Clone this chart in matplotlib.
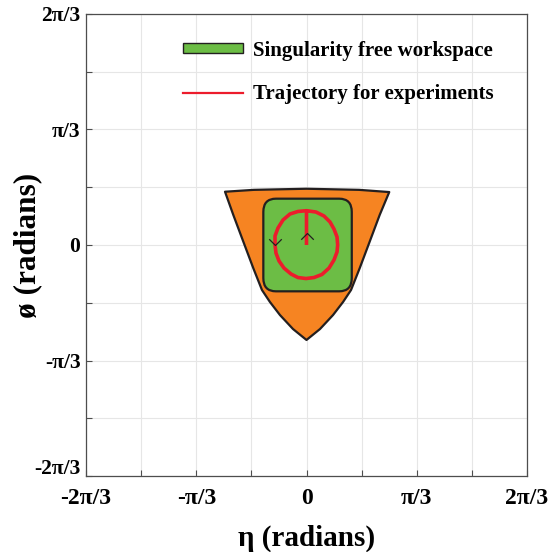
import numpy as np
import matplotlib.pyplot as plt
from matplotlib.patches import FancyBboxPatch, Patch
from matplotlib.lines import Line2D
from matplotlib.path import Path
from matplotlib.transforms import ScaledTranslation

# workspace boundary (eta, phi) in radians, traced left side -> bottom -> right side -> top arc
ws_eta = [-0.774, -0.695, -0.600, -0.505, -0.423, -0.347, -0.252, -0.128, 0.0,
          0.128, 0.252, 0.347, 0.423, 0.505, 0.600, 0.695, 0.786,
          0.5, 0.0, -0.5]
ws_phi = [0.483, 0.272, 0.030, -0.211, -0.408, -0.517, -0.635, -0.762, -0.861,
          -0.762, -0.635, -0.517, -0.408, -0.211, 0.030, 0.272, 0.480,
          0.500, 0.510, 0.500]

# singularity free square (eta range, phi range) and corner rounding
free_eta = [-0.41, 0.43]
free_phi = [-0.42, 0.42]
free_round = 0.12

# experiment trajectory: out from the origin, then once round counter-clockwise
traj_eta = [0.0, 0.0, -0.081, -0.157, -0.223, -0.271, -0.299, -0.299, -0.290,
            -0.261, -0.214, -0.147, -0.081, -0.005, 0.071, 0.147, 0.214,
            0.261, 0.290, 0.296, 0.290, 0.261, 0.223, 0.166, 0.090, 0.0]
traj_phi = [0.0, 0.311, 0.304, 0.281, 0.227, 0.154, 0.082, 0.0, -0.073,
            -0.145, -0.209, -0.263, -0.295, -0.304, -0.295, -0.267, -0.209,
            -0.136, -0.063, 0.0, 0.073, 0.145, 0.209, 0.263, 0.299, 0.311]

# direction markers on the trajectory
arrow_down = (-0.299, 0.0)
arrow_up = (0.0, 0.106)

tick_vals = np.arange(-4, 5) * np.pi / 6
tick_text = ['-2π/3', '', '-π/3', '', '0', '', 'π/3', '', '2π/3']

ORANGE = '#F68422'
GREEN = '#6CBD45'
RED = '#EC1C2C'
EDGE = '#231F20'

plt.rcParams['font.family'] = ['Liberation Serif', 'DejaVu Serif']
plt.rcParams['font.weight'] = 'bold'

fig = plt.figure(figsize=(5.5, 5.52), dpi=100)
ax = fig.add_axes([86 / 550, 76 / 552, 441 / 550, 462 / 552])

ax.fill(ws_eta, ws_phi, facecolor=ORANGE, edgecolor=EDGE, linewidth=1.6,
        joinstyle='round', zorder=2)

box = FancyBboxPatch((free_eta[0], free_phi[0]), free_eta[1] - free_eta[0],
                     free_phi[1] - free_phi[0],
                     boxstyle=f'round,pad=0,rounding_size={free_round}',
                     facecolor=GREEN, edgecolor=EDGE, linewidth=1.6, zorder=3)
ax.add_patch(box)

ax.plot(traj_eta, traj_phi, color=RED, linewidth=2.6, solid_joinstyle='round',
        solid_capstyle='butt', zorder=4)

down_mark = Path([(-1, 1), (0, 0), (1, 1)], [Path.MOVETO, Path.LINETO, Path.LINETO])
up_mark = Path([(-1, -1), (0, 0), (1, -1)], [Path.MOVETO, Path.LINETO, Path.LINETO])
ax.plot(*arrow_down, marker=down_mark, markersize=9, markerfacecolor='none',
        markeredgecolor=EDGE, markeredgewidth=0.9, zorder=5)
ax.plot(*arrow_up, marker=up_mark, markersize=9, markerfacecolor='none',
        markeredgecolor=EDGE, markeredgewidth=0.9, zorder=5)

lim = 2 * np.pi / 3
ax.set_xlim(-lim, lim)
ax.set_ylim(-lim, lim)
ax.set_xticks(tick_vals)
ax.set_xticklabels(tick_text)
ax.set_yticks(tick_vals)
ax.set_yticklabels(tick_text)
ax.tick_params(direction='in', length=4, width=0.8, color='#4D4D4D')
ax.tick_params(axis='x', pad=9, labelsize=17)
ax.tick_params(axis='y', pad=4, labelsize=15.5)
ax.grid(True, color='#E6E6E6', linewidth=0.8, zorder=0)
ax.set_axisbelow(True)
for s in ax.spines.values():
    s.set_color('#4D4D4D')
    s.set_linewidth(0.9)

# lowest phi label sits a little above the corner
low = ax.get_yticklabels()[0]
low.set_transform(low.get_transform() + ScaledTranslation(0, 0.09, fig.dpi_scale_trans))

ax.set_xlabel('η (radians)', fontsize=21, fontweight='bold')
ax.set_ylabel('ø (radians)', fontsize=22.5, fontweight='bold')
ax.xaxis.set_label_coords(0.5, -0.106)
ax.yaxis.set_label_coords(-0.100, 0.5)

handles = [Patch(facecolor=GREEN, edgecolor=EDGE, linewidth=1.0),
           Line2D([0], [0], color=RED, linewidth=1.6)]
labels = ['Singularity free workspace', 'Trajectory for experiments']
ax.legend(handles, labels, loc='upper left', bbox_to_anchor=(0.22, 0.942),
          frameon=False, fontsize=15, handlelength=2.9, handleheight=0.35,
          handletextpad=0.48, labelspacing=1.12, borderaxespad=0, borderpad=0)

fig.savefig('out.png', dpi=100)
